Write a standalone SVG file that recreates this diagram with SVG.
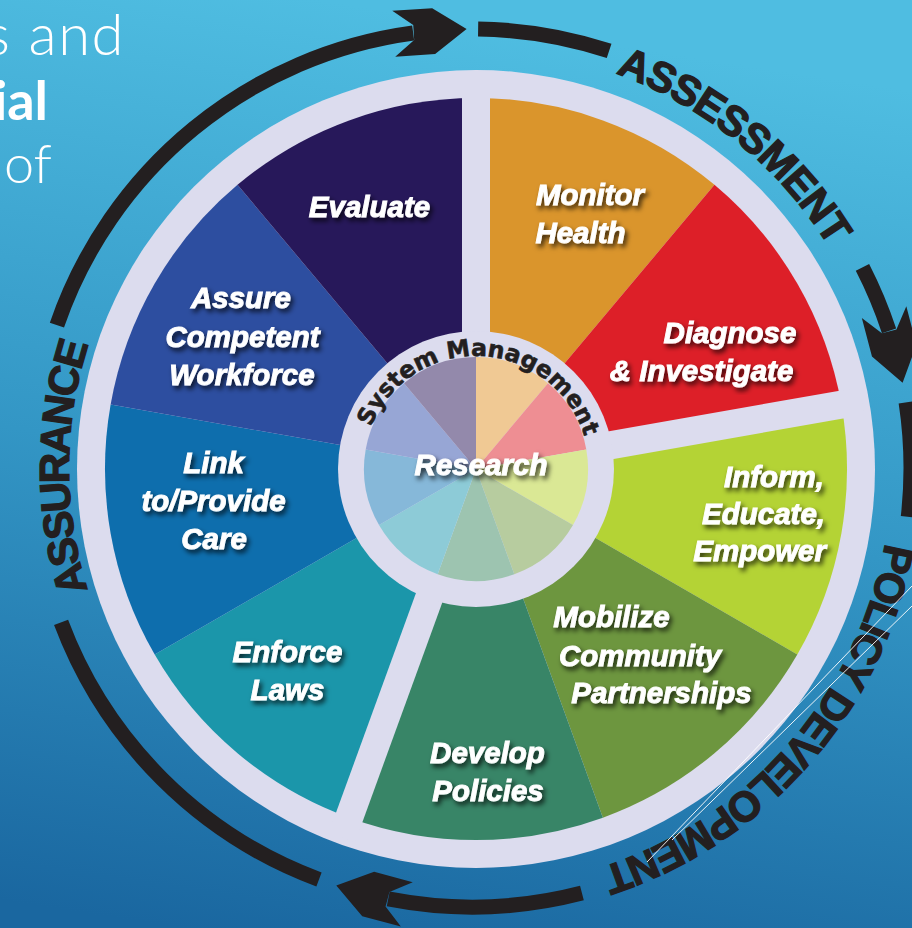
<svg xmlns="http://www.w3.org/2000/svg" width="912" height="928" viewBox="0 0 912 928">
<defs>
  <linearGradient id="bg" x1="0.35" y1="0" x2="0.2" y2="1">
    <stop offset="0" stop-color="#4fbde1"/>
    <stop offset="0.5" stop-color="#3396c5"/>
    <stop offset="1" stop-color="#1a67a0"/>
  </linearGradient>
  <filter id="sh" x="-10%" y="-10%" width="120%" height="120%">
    <feDropShadow dx="2.5" dy="3.5" stdDeviation="2.5" flood-color="#000" flood-opacity="0.75"/>
  </filter>
  <path id="ringText" d="M 892 468 A 420 420 0 1 1 52 468 A 420 420 0 1 1 892 468"/>
  <path id="ringTextL" d="M 875 468 A 403 403 0 1 1 69 468 A 403 403 0 1 1 875 468"/>
  <path id="innerText" d="M 589 469 A 113 113 0 1 1 363 469 A 113 113 0 1 1 589 469"/>
  <polygon id="head" points="0,0 -33,-23 -73,-23 -53,-7.5 -53,7.5 -73,23 -33,23"/>
</defs>
<style>
  .lbl { font-family: "Liberation Sans", Arial, sans-serif; font-weight: bold; font-style: italic; font-size: 29.5px; fill: #ffffff; stroke: #ffffff; stroke-width: 0.9px; text-anchor: middle; }
  .end { text-anchor: end; }
  .ring { font-family: "Liberation Sans", Arial, sans-serif; font-weight: bold; font-size: 42px; fill: #231f20; stroke: #231f20; stroke-width: 1.3px; }
  .arc { fill: none; stroke: #231f20; stroke-width: 15; }
  .head { fill: #231f20; }
  .lav { fill: #dcdcee; }
  .slide { font-family: Lato, "Open Sans", sans-serif; fill: #ffffff; text-anchor: end; }
</style>

<rect x="0" y="0" width="912" height="928" fill="url(#bg)"/>

<g id="slide-text">
  <text class="slide" x="125" y="55" font-size="58" font-weight="300" letter-spacing="1.5">s and</text>
  <text class="slide" x="48" y="120" font-size="54" font-weight="700">tial</text>
  <text class="slide" x="52" y="183" font-size="54" font-weight="300">of</text>
</g>

<g id="wheel-base">
  <circle cx="476" cy="469" r="399" class="lav"/>
</g>

<g id="monitor-health">
  <path d="M476,469 L476,98 A371,371 0 0 1 714.47,184.80 Z" fill="#da952c"/>
  <g filter="url(#sh)">
    <text class="lbl" x="590" y="205">Monitor</text>
    <text class="lbl" x="580.5" y="243">Health</text>
  </g>
</g>
<g id="diagnose-investigate">
  <path d="M476,469 L714.47,184.80 A371,371 0 0 1 841.36,404.58 Z" fill="#dd1f28"/>
  <g filter="url(#sh)">
    <text class="lbl" x="730" y="343">Diagnose</text>
    <text class="lbl" x="701.5" y="381">&amp; Investigate</text>
  </g>
</g>
<g id="inform-educate-empower">
  <path d="M476,469 L841.36,404.58 A371,371 0 0 1 797.30,654.50 Z" fill="#b4d335"/>
  <g filter="url(#sh)">
    <text class="lbl end" x="824" y="487">Inform,</text>
    <text class="lbl end" x="825" y="524">Educate,</text>
    <text class="lbl end" x="826" y="561">Empower</text>
  </g>
</g>
<g id="mobilize-partnerships">
  <path d="M476,469 L797.30,654.50 A371,371 0 0 1 602.89,817.63 Z" fill="#6d963f"/>
  <g filter="url(#sh)">
    <text class="lbl" x="611.5" y="627">Mobilize</text>
    <text class="lbl" x="640" y="666">Community</text>
    <text class="lbl" x="661.5" y="703">Partnerships</text>
  </g>
</g>
<g id="develop-policies">
  <path d="M476,469 L602.89,817.63 A371,371 0 0 1 349.11,817.63 Z" fill="#388567"/>
  <g filter="url(#sh)">
    <text class="lbl" x="487.5" y="763">Develop</text>
    <text class="lbl" x="488" y="801">Policies</text>
  </g>
</g>
<g id="enforce-laws">
  <path d="M476,469 L349.11,817.63 A371,371 0 0 1 154.70,654.50 Z" fill="#1b96aa"/>
  <g filter="url(#sh)">
    <text class="lbl" x="287.5" y="662">Enforce</text>
    <text class="lbl" x="287.5" y="700">Laws</text>
  </g>
</g>
<g id="link-provide-care">
  <path d="M476,469 L154.70,654.50 A371,371 0 0 1 110.64,404.58 Z" fill="#0e6ead"/>
  <g filter="url(#sh)">
    <text class="lbl" x="213.5" y="473">Link</text>
    <text class="lbl" x="213.5" y="511">to/Provide</text>
    <text class="lbl" x="214" y="548.5">Care</text>
  </g>
</g>
<g id="assure-workforce">
  <path d="M476,469 L110.64,404.58 A371,371 0 0 1 237.53,184.80 Z" fill="#2d4ea0"/>
  <g filter="url(#sh)">
    <text class="lbl" x="241" y="308">Assure</text>
    <text class="lbl" x="242.5" y="347">Competent</text>
    <text class="lbl" x="242" y="385">Workforce</text>
  </g>
</g>
<g id="evaluate">
  <path d="M476,469 L237.53,184.80 A371,371 0 0 1 476,98 Z" fill="#27185a"/>
  <g filter="url(#sh)">
    <text class="lbl" x="369.5" y="216.5">Evaluate</text>
  </g>
</g>

<g id="spokes">
  <rect x="100" y="-14" width="292" height="28" class="lav" transform="translate(476 469) rotate(270)"/>
  <rect x="100" y="-14" width="292" height="28" class="lav" transform="translate(476 469) rotate(350)"/>
  <rect x="100" y="-14" width="292" height="28" class="lav" transform="translate(476 469) rotate(110)"/>
</g>

<g id="research-hub">
  <circle cx="476" cy="469" r="138" class="lav"/>
  <path d="M476,469 L476,357 A112,112 0 0 1 547.99,383.20 Z" fill="#f0c994"/>
  <path d="M476,469 L547.99,383.20 A112,112 0 0 1 586.30,449.55 Z" fill="#ee8e93"/>
  <path d="M476,469 L586.30,449.55 A112,112 0 0 1 572.99,525 Z" fill="#dae895"/>
  <path d="M476,469 L572.99,525 A112,112 0 0 1 514.31,574.25 Z" fill="#b7cc9f"/>
  <path d="M476,469 L514.31,574.25 A112,112 0 0 1 437.69,574.25 Z" fill="#9dc4b0"/>
  <path d="M476,469 L437.69,574.25 A112,112 0 0 1 379.01,525 Z" fill="#8dcbd7"/>
  <path d="M476,469 L379.01,525 A112,112 0 0 1 365.70,449.55 Z" fill="#86b8d9"/>
  <path d="M476,469 L365.70,449.55 A112,112 0 0 1 404.01,383.20 Z" fill="#97a6d5"/>
  <path d="M476,469 L404.01,383.20 A112,112 0 0 1 476,357 Z" fill="#9389ab"/>
  <g filter="url(#sh)">
    <text class="lbl" x="481" y="475">Research</text>
  </g>
  <text font-family="'DejaVu Sans', sans-serif" font-weight="bold" font-size="23.5" fill="#231f20" stroke="#231f20" stroke-width="0.6" letter-spacing="0"><textPath href="#innerText" startOffset="537" text-anchor="middle">System Management</textPath></text>
</g>

<g id="connectors">
  <path class="arc" d="M 56.92 325.07 A 439 439 0 0 1 413.18 32.96"/>
  <use href="#head" class="head" transform="translate(466.6 29) rotate(-3.7)"/>
  <path class="arc" d="M 478.13 29.04 A 439 439 0 0 1 609.11 50.96"/>
  <path class="arc" d="M 862.46 267.36 A 439 439 0 0 1 889.04 330.89"/>
  <use href="#head" class="head" transform="translate(902.6 382.7) rotate(75.3)"/>
  <path class="arc" d="M 906.07 402.35 A 439 439 0 0 1 908.26 516.94"/>
  <path class="arc" d="M 581.92 893.02 A 439 439 0 0 1 388.23 898.94"/>
  <use href="#head" class="head" transform="translate(336.3 885.5) rotate(195)"/>
  <path class="arc" d="M 318.98 879.47 A 439 439 0 0 1 61.07 622.46"/>
</g>

<g id="phase-labels">
  <text class="ring" letter-spacing="-1"><textPath href="#ringText" startOffset="2265" text-anchor="middle">ASSESSMENT</textPath></text>
  <text class="ring" letter-spacing="-2"><textPath href="#ringText" startOffset="301" text-anchor="middle">POLICY DEVELOPMENT</textPath></text>
  <text class="ring" letter-spacing="-2"><textPath href="#ringTextL" startOffset="1266" text-anchor="middle">ASSURANCE</textPath></text>
</g>

<g id="decor-lines" stroke="#ffffff" stroke-width="1" fill="none" opacity="0.9">
  <line x1="912" y1="586" x2="647" y2="862"/>
  <line x1="912" y1="606" x2="672" y2="840"/>
</g>
</svg>
